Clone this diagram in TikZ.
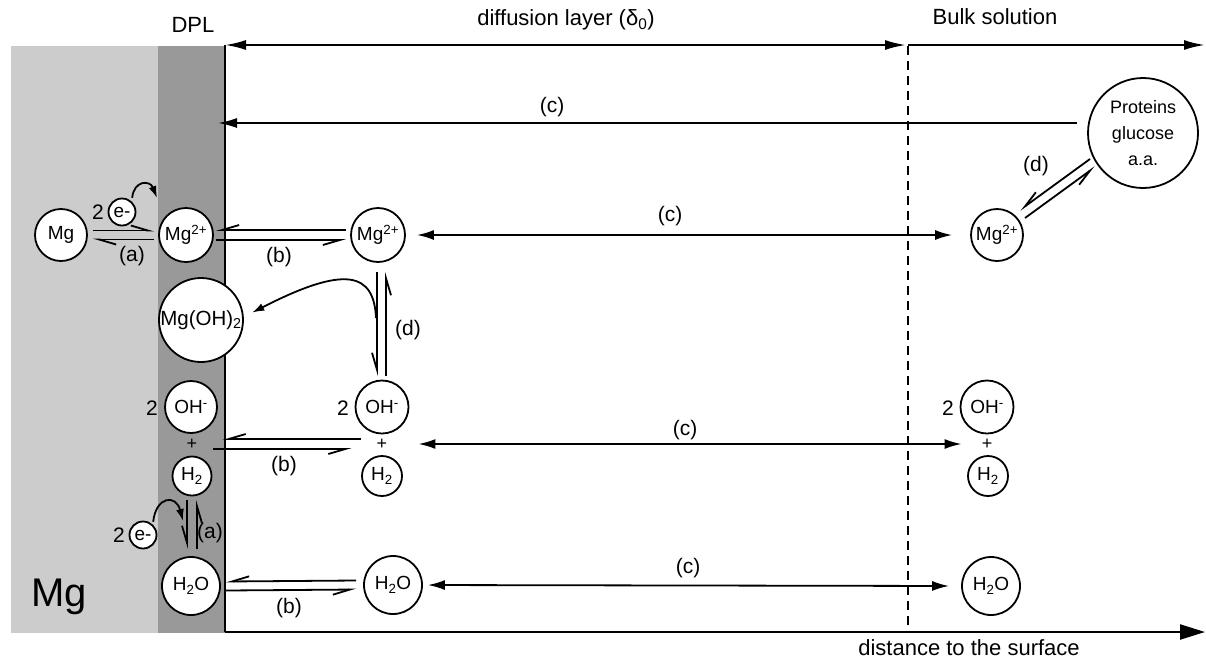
\documentclass[tikz,border=0pt]{standalone}
\usepackage{fontspec}
\setmainfont{Liberation Sans}
\usetikzlibrary{arrows.meta}
\definecolor{metal}{HTML}{CCCCCC}
\definecolor{dpl}{HTML}{999999}
\begin{document}
\begin{tikzpicture}[x=1pt,y=-1pt,
  mol/.style={circle,draw,line width=1.8pt,fill=white,inner sep=0pt,font=\fontsize{19}{21}\selectfont},
  lbl/.style={inner sep=0pt,font=\fontsize{21}{25}\selectfont},
  hdr/.style={inner sep=0pt,font=\fontsize{22}{26}\selectfont},
  hp/.style={line width=1.8pt,-{Straight Barb[harpoon,length=17pt,width=10pt]}},
  hps/.style={line width=1.8pt,-{Straight Barb[harpoon,swap,length=17pt,width=10pt]}},
  carr/.style={line width=1.8pt,{Latex[length=17pt,width=10pt]}-{Latex[length=17pt,width=10pt]}},
  axisline/.style={line width=2.2pt},
  curv/.style={line width=1.8pt,-{Latex[length=12pt,width=8pt]}}
]
\useasboundingbox (0,0) rectangle (1206,662);
% regions
\fill[metal] (11,46) rectangle (158,633);
\fill[dpl] (158,46) rectangle (225,633);
% axes
\coordinate (Otop) at (225,45);
\coordinate (O) at (225,632);
\coordinate (xend) at (1205,632);
\coordinate (dstop) at (906,45);
\coordinate (dsbeg) at (908,45);
\coordinate (yend) at (1205,45);
\coordinate (dtop) at (908,46);
\coordinate (dbot) at (908,632);
\draw[axisline] (Otop) -- (O);
\draw[axisline,-{Triangle[length=25pt,width=15pt]}] (O) -- (xend);
\draw[axisline,{Latex[length=21pt,width=10pt]}-{Latex[length=21pt,width=10pt]}] (Otop) -- (dstop);
\draw[axisline,-{Latex[length=21pt,width=10pt]}] (dsbeg) -- (yend);
\draw[line width=1.9pt,dash pattern=on 9pt off 6pt] (dtop) -- (dbot);
% headers
\node[hdr] (hdpl) at (193,25) {DPL};
\node[hdr] (hdif) at (566,20) {diffusion layer (δ\textsubscript{0})};
\node[hdr] (hbulk) at (995,17) {Bulk solution};
\node[hdr] (hdist) at (969,648) {distance to the surface};
\node[inner sep=0pt,font=\fontsize{40}{44}\selectfont] (bigmg) at (59,597) {Mg};
% molecules
\node[mol,minimum size=52pt] (mg) at (61,235) {Mg};
\node[mol,minimum size=54pt] (mgd) at (186,235) {Mg\textsuperscript{2+}};
\node[mol,minimum size=54pt] (mgm) at (378,235) {Mg\textsuperscript{2+}};
\node[mol,minimum size=52pt] (mgr) at (997,235) {Mg\textsuperscript{2+}};
\node[mol,minimum size=84pt,font=\fontsize{20.5}{22}\selectfont] (mgoh) at (201,320) {Mg(OH)\textsubscript{2}};
\node[mol,minimum size=110pt,align=center,font=\fontsize{18}{26}\selectfont] (prot) at (1143,133) {Proteins\\glucose\\a.a.};
\node[mol,minimum size=27pt] (e1) at (122,212) {e-};
\node[lbl] (two1) at (98,212) {2};
\node[mol,minimum size=27pt] (e2) at (143,535) {e-};
\node[lbl] (two2) at (119,535) {2};
% OH / H2 groups
\node[mol,minimum size=52pt] (ohd) at (191,407) {OH\textsuperscript{-}};
\node[lbl] (twod) at (152,408) {2};
\node[inner sep=0pt,font=\fontsize{18}{20}\selectfont] (plusd) at (192,444) {+};
\node[mol,minimum size=39pt] (h2d) at (192,476) {H\textsubscript{2}};
\node[mol,minimum size=53pt] (ohm) at (382,407) {OH\textsuperscript{-}};
\node[lbl] (twom) at (343,408) {2};
\node[inner sep=0pt,font=\fontsize{18}{20}\selectfont] (plusm) at (382,444) {+};
\node[mol,minimum size=40pt] (h2m) at (382,476) {H\textsubscript{2}};
\node[mol,minimum size=53pt] (ohr) at (987,407) {OH\textsuperscript{-}};
\node[lbl] (twor) at (948,408) {2};
\node[inner sep=0pt,font=\fontsize{18}{20}\selectfont] (plusr) at (987,444) {+};
\node[mol,minimum size=40pt] (h2r) at (988,476) {H\textsubscript{2}};
% water
\node[mol,minimum size=58pt] (hd) at (191,586) {H\textsubscript{2}O};
\node[mol,minimum size=58pt] (hm) at (393,585) {H\textsubscript{2}O};
\node[mol,minimum size=58pt] (hr) at (991,586) {H\textsubscript{2}O};
% row 1 equilibria
\draw[hp] ([xshift=5pt,yshift=4.5pt]mg.east) -- ([xshift=-4pt,yshift=4.5pt]mgd.west);
\draw[hp] ([xshift=-4pt,yshift=-4.5pt]mgd.west) -- ([xshift=5pt,yshift=-4.5pt]mg.east);
\node[lbl] (la1) at (132,256) {(a)};
\draw[hps] ([xshift=-4pt,yshift=5pt]mgm.west) -- ([xshift=2pt,yshift=5pt]mgd.east);
\draw[hps] ([xshift=2pt,yshift=-5pt]mgd.east) -- ([xshift=-4pt,yshift=-5pt]mgm.west);
\node[lbl] (lb1) at (279,257) {(b)};
\draw[carr,shorten <=11pt,shorten >=18pt] (mgm.east) -- (mgr.west);
\node[lbl] (lc1) at (670,216) {(c)};
% top (c)
\coordinate (ctop) at (1077,123);
\coordinate (cend) at (218,123);
\draw[line width=1.8pt,-{Latex[length=19pt,width=10pt]}] (ctop) -- (cend);
\node[lbl] (lc0) at (552,107) {(c)};
% (d) right diagonal
\coordinate (d1a) at (1090,159);
\coordinate (d1b) at (1020,210);
\coordinate (d2a) at (1025,218);
\coordinate (d2b) at (1095,167);
\draw[hps] (d1a) -- (d1b);
\draw[hps] (d2a) -- (d2b);
\node[lbl] (ld1) at (1036,166) {(d)};
% (d) vertical
\coordinate (v1a) at (377,272);
\coordinate (v1b) at (377,376);
\coordinate (v2a) at (386,376);
\coordinate (v2b) at (386,272);
\draw[hps] (v1a) -- (v1b);
\draw[hps] (v2a) -- (v2b);
\node[lbl] (ld2) at (408,330) {(d)};
\coordinate (br) at (376,318);
\draw[curv] (br) .. controls (374,272) and (345,265) .. ([xshift=9pt]mgoh.10);
% row 2
\draw[hps,shorten <=16pt,shorten >=25pt] ([yshift=5pt]plusm.west) -- ([yshift=5pt]plusd.east);
\draw[hps,shorten <=16pt,shorten >=25pt] ([yshift=-5pt]plusd.east) -- ([yshift=-5pt]plusm.west);
\node[lbl] (lb2) at (284,466) {(b)};
\draw[carr,shorten <=31pt,shorten >=20pt] (plusm.east) -- (plusr.west);
\node[lbl] (lc2) at (685,430) {(c)};
% (a) vertical
\coordinate (a1a) at (187,500);
\coordinate (a1b) at (187,549);
\coordinate (a2a) at (197,549);
\coordinate (a2b) at (197,500);
\draw[hps] (a1a) -- (a1b);
\draw[hps] (a2a) -- (a2b);
\node[lbl] (la2) at (210,533) {(a)};
% curved electron arrows
\coordinate (t1) at (157,198);
\draw[curv] ([yshift=4pt]e1.north east) .. controls (134,180) and (150,180) .. (t1);
\coordinate (t2) at (183,521);
\draw[curv] ([yshift=3pt]e2.north east) .. controls (156,496) and (176,494) .. (t2);
% row 3
\draw[hps] ([xshift=-7pt,yshift=4.5pt]hm.west) -- ([xshift=5pt,yshift=4.5pt]hd.east);
\draw[hps] ([xshift=5pt,yshift=-4.5pt]hd.east) -- ([xshift=-7pt,yshift=-4.5pt]hm.west);
\node[lbl] (lb3) at (289,608) {(b)};
\draw[carr,shorten <=5pt,shorten >=12pt] (hm.east) -- (hr.west);
\node[lbl] (lc3) at (688,568) {(c)};
\end{tikzpicture}
\end{document}
